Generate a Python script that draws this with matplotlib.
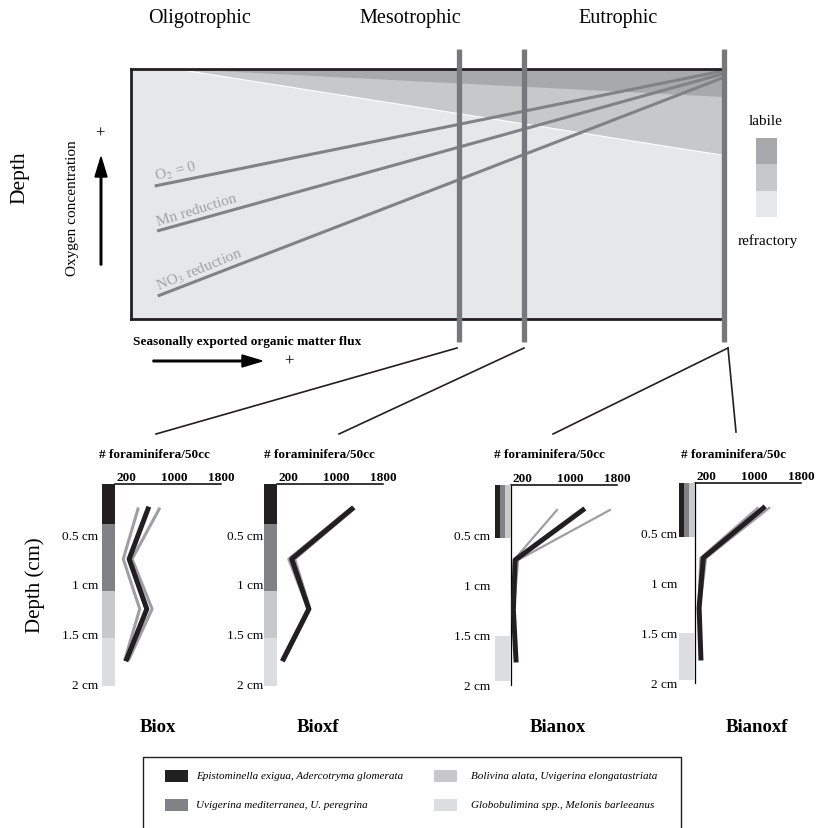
import matplotlib.pyplot as plt
from matplotlib.patches import Polygon, Rectangle, FancyArrow

plt.rcParams['font.family'] = ['Liberation Serif', 'DejaVu Serif']
plt.rcParams['mathtext.fontset'] = 'stix'

W, H = 817, 829

# ---- schematic data (flux 0..1 along x, depth 0..1 downwards) ----
zones = ['Oligotrophic', 'Mesotrophic', 'Eutrophic']
redox_labels = ['O$_2$ = 0', 'Mn reduction', 'NO$_3$ reduction']
redox_flux_start = [0.040, 0.044, 0.045]
redox_depth_start = [0.468, 0.648, 0.908]
redox_flux_end = [0.997, 0.997, 0.997]
redox_depth_end = [0.008, 0.020, 0.036]
station_flux = [0.553, 0.663, 1.0]
om_flux_start = 0.08
om_depth_at_max = [0.112, 0.344]   # labile, intermediate

# ---- foraminifera profiles ----
stations = ['Biox', 'Bioxf', 'Bianox', 'Bianoxf']
headers = ['# foraminifera/50cc', '# foraminifera/50cc', '# foraminifera/50cc', '# foraminifera/50c']
depth_mid = [0.25, 0.75, 1.25, 1.75]
count_ticks = [200, 1000, 1800]
depth_ticks = [0.5, 1, 1.5, 2]
depth_ticklabels = ['0.5 cm', '1 cm', '1.5 cm', '2 cm']

black_counts = {
    'Biox': [560, 240, 540, 200],
    'Bioxf': [1270, 250, 540, 110],
    'Bianox': [1220, 70, 40, 85],
    'Bianoxf': [1160, 140, 70, 100],
}
grey_a_counts = {
    'Biox': [390, 140, 420, 170],
    'Bioxf': [1240, 200, 530, 90],
    'Bianox': [780, 50, 30, 80],
    'Bianoxf': [1060, 90, 60, 90],
}
grey_b_counts = {
    'Biox': [750, 290, 630, 240],
    'Bioxf': [1300, 300, 560, 130],
    'Bianox': [1680, 120, 50, 90],
    'Bianoxf': [1260, 190, 80, 110],
}

species = ['Epistominella exigua, Adercotryma glomerata',
           'Uvigerina mediterranea, U. peregrina',
           'Bolivina alata, Uvigerina elongatastriata',
           'Globobulimina spp., Melonis barleeanus']
species_colors = ['#231f20', '#808285', '#c7c8ca', '#dcddde']

# depth range (cm) occupied by each species group in each core
species_top = {
    'Biox': [0, 0.4, 1.07, 1.54],
    'Bioxf': [0, 0.4, 1.07, 1.54],
    'Bianox': [0, 0, 0, 1.51],
    'Bianoxf': [0, 0, 0, 1.50],
}
species_bottom = {
    'Biox': [0.4, 1.07, 1.54, 2.02],
    'Bioxf': [0.4, 1.07, 1.54, 2.02],
    'Bianox': [0.53, 0.53, 0.53, 1.96],
    'Bianoxf': [0.54, 0.54, 0.54, 1.97],
}

fig = plt.figure(figsize=(W / 100, H / 100), dpi=100)


def px_axes(x0, y0, x1, y1, **kw):
    return fig.add_axes([x0 / W, 1 - y1 / H, (x1 - x0) / W, (y1 - y0) / H], **kw)


# overlay in pixel coordinates for annotations
ov = fig.add_axes([0, 0, 1, 1])
ov.set_xlim(0, W)
ov.set_ylim(H, 0)
ov.axis('off')

# ---- top schematic ----
ax = px_axes(131, 70, 724, 320)
ax.set_xlim(0, 1)
ax.set_ylim(1, 0)
ax.set_facecolor('#e6e7e8')
ax.set_xticks([])
ax.set_yticks([])
for s in ['top', 'bottom', 'left']:
    ax.spines[s].set_linewidth(2)
    ax.spines[s].set_color('#231f20')
ax.spines['right'].set_visible(False)

ax.add_patch(Polygon([(om_flux_start, 0), (1, 0), (1, om_depth_at_max[1])],
                     facecolor='#c7c8ca', edgecolor='white', lw=0.8))
ax.add_patch(Polygon([(om_flux_start, 0), (1, 0), (1, om_depth_at_max[0])],
                     facecolor='#a7a9ac', edgecolor='none'))

rot = [14, 17, 22]
for i, lab in enumerate(redox_labels):
    ax.plot([redox_flux_start[i], redox_flux_end[i]], [redox_depth_start[i], redox_depth_end[i]],
            color='#808285', lw=2.2, solid_capstyle='butt')
for i, lab in enumerate(redox_labels):
    ax.text(redox_flux_start[i] + 0.002, redox_depth_start[i] - 0.025, lab, rotation=rot[i],
            rotation_mode='anchor', ha='left', va='baseline', fontsize=11, color='#a0a1a3')

for sx in station_flux:
    ax.plot([sx, sx], [-0.08, 1.092], color='#77787b', lw=3.8, clip_on=False,
            solid_capstyle='butt', zorder=5)

# zone labels
for zx, z in zip([200, 410, 618], zones):
    ov.text(zx, 18, z, ha='center', va='center', fontsize=14.5)

ov.text(20, 178, 'Depth', rotation=90, ha='center', va='center', fontsize=15.5)
ov.text(73, 208, 'Oxygen concentration', rotation=90, ha='center', va='center', fontsize=11)
ov.add_patch(FancyArrow(101, 266, 0, -108, width=1.6, head_width=12, head_length=20,
                        length_includes_head=True, color='black'))
ov.text(100, 134, '+', ha='center', va='center', fontsize=12)

# organic matter legend
ov.text(766, 121, 'labile', ha='center', va='center', fontsize=11)
ov.text(768, 241, 'refractory', ha='center', va='center', fontsize=11)
for y0, y1, c in [(139, 165, '#a7a9ac'), (165, 192, '#c7c8ca'), (192, 218, '#e6e7e8')]:
    ov.add_patch(Rectangle((756, y0), 21, y1 - y0, facecolor=c, edgecolor='none'))

ov.text(133, 342, 'Seasonally exported organic matter flux', ha='left', va='center',
        fontsize=9.6, fontweight='bold')
ov.add_patch(FancyArrow(153, 362, 109, 0, width=1.6, head_width=12, head_length=20,
                        length_includes_head=True, color='black'))
ov.text(289, 362, '+', ha='center', va='center', fontsize=12)

# connectors from stations to the cores
for (xa, ya), (xb, yb) in [((457, 349), (156, 435)), ((524, 349), (339, 435)),
                           ((728, 349), (553, 435)), ((728, 349), (736, 433))]:
    ov.plot([xa, xb], [ya, yb], color='#231f20', lw=1.2)

# ---- foraminifera profiles ----
boxes = {'Biox': (115, 485, 221, 685), 'Bioxf': (277, 485, 383, 685),
         'Bianox': (511, 486, 617, 686), 'Bianoxf': (695, 484, 801, 684)}
header_x = {'Biox': 154, 'Bioxf': 319, 'Bianox': 549, 'Bianoxf': 734}
title_x = {'Biox': 158, 'Bioxf': 318, 'Bianox': 558, 'Bianoxf': 757}
label_pad = {'Biox': 12, 'Bioxf': 10, 'Bianox': 15, 'Bianoxf': 13}
u = 1800 / 106  # count units per pixel

for k, st in enumerate(stations):
    x0, y0, x1, y1 = boxes[st]
    a = px_axes(x0, y0, x1, y1)
    a.set_facecolor('none')
    a.set_xlim(0, 1800)
    a.set_ylim(2, 0)
    a.xaxis.tick_top()
    a.set_xticks(count_ticks)
    a.set_xticklabels([str(t) for t in count_ticks], fontsize=9.5, fontweight='bold')
    a.tick_params(axis='x', length=0, pad=1)
    a.set_yticks(depth_ticks)
    a.set_yticklabels(depth_ticklabels, fontsize=9.5)
    a.tick_params(axis='y', length=0, pad=label_pad[st])
    a.spines['right'].set_visible(False)
    a.spines['bottom'].set_visible(False)
    a.spines['top'].set_linewidth(1.1)
    a.spines['left'].set_linewidth(0.9)
    if st in ('Biox', 'Bioxf'):
        a.spines['left'].set_visible(False)

    tops, bots = species_top[st], species_bottom[st]
    for i in range(4):
        if st in ('Biox', 'Bioxf'):
            left, wid = -13 * u, 13 * u
        elif i < 3:
            left, wid = (-16 + 5 * i) * u, (5 if i < 2 else 6) * u
        else:
            left, wid = -16 * u, 15 * u
        a.barh((tops[i] + bots[i]) / 2, wid, height=bots[i] - tops[i], left=left,
               color=species_colors[i], clip_on=False, zorder=3)

    glw = 2.2 if st in ('Biox', 'Bioxf') else 1.6
    a.plot(grey_a_counts[st], depth_mid, color='#9d9fa2', lw=glw, zorder=4)
    a.plot(grey_b_counts[st], depth_mid, color='#9d9fa2', lw=glw, zorder=4)
    a.plot(black_counts[st], depth_mid, color='#231f20', lw=3.6, zorder=5)

    ov.text(header_x[st], 455, headers[k], ha='center', va='center', fontsize=9.5,
            fontweight='bold')
    ov.text(title_x[st], 727, st, ha='center', va='center', fontsize=13.5, fontweight='bold')

ov.text(35, 585, 'Depth (cm)', rotation=90, ha='center', va='center', fontsize=15)

# species legend
ov.plot([143, 143, 681, 681], [840, 758, 758, 840], color='#231f20', lw=1, clip_on=False)
for i, (sp, c) in enumerate(zip(species, species_colors)):
    col, row = i // 2, i % 2
    sx = 165 if col == 0 else 434
    sy = 777 if row == 0 else 806
    ov.add_patch(Rectangle((sx, sy - 6), 23, 12, facecolor=c, edgecolor='none'))
    ov.text(sx + 31 if col == 0 else sx + 37, sy, sp, ha='left', va='center',
            fontsize=8, fontstyle='italic')

fig.savefig('out.png', dpi=100)
